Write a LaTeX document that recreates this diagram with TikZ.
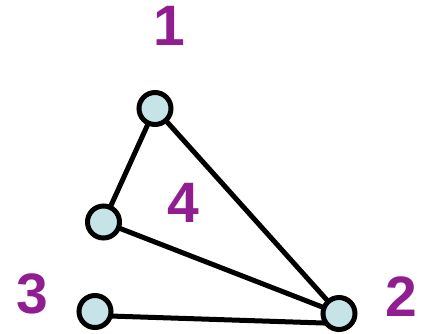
\documentclass[tikz,border=0pt]{standalone}
\usepackage{fontspec}
\setmainfont{Liberation Sans}
\usetikzlibrary{backgrounds,calc}
\definecolor{nodefill}{HTML}{C6E4E7}
\definecolor{labpurple}{HTML}{911E91}
\begin{document}
\begin{tikzpicture}[x=1pt,y=-1pt,
  vtx/.style={circle,draw=black,fill=nodefill,line width=5pt,minimum size=32pt,inner sep=0pt},
  lab/.style={text=labpurple,font=\fontsize{57}{57}\selectfont\bfseries,inner sep=0pt},
  edge/.style={line width=5pt}]
\useasboundingbox (0,0) rectangle (427,333);
\node[vtx] (n1) at (155,108.5) {};
\node[vtx] (n4) at (103.5,222) {};
\node[vtx] (n3) at (95,311.5) {};
\node[vtx] (n2) at (339,313.5) {};
\begin{scope}[on background layer]
\draw[edge] (n1.center) -- (n4.center);
\draw[edge] (n1.center) -- (n2.center);
\draw[edge] (n4.center) -- (n2.center);
\draw[edge] ($(n3.center)+(0,4)$) -- ($(n2.center)+(0,10)$);
\end{scope}
\node[lab] (l1) at (169,26) {1};
\node[lab] (l4) at (183,202.5) {4};
\node[lab] (l3) at (32.5,294) {3};
\node[lab] (l2) at (401.5,296.7) {2};
\end{tikzpicture}
\end{document}
